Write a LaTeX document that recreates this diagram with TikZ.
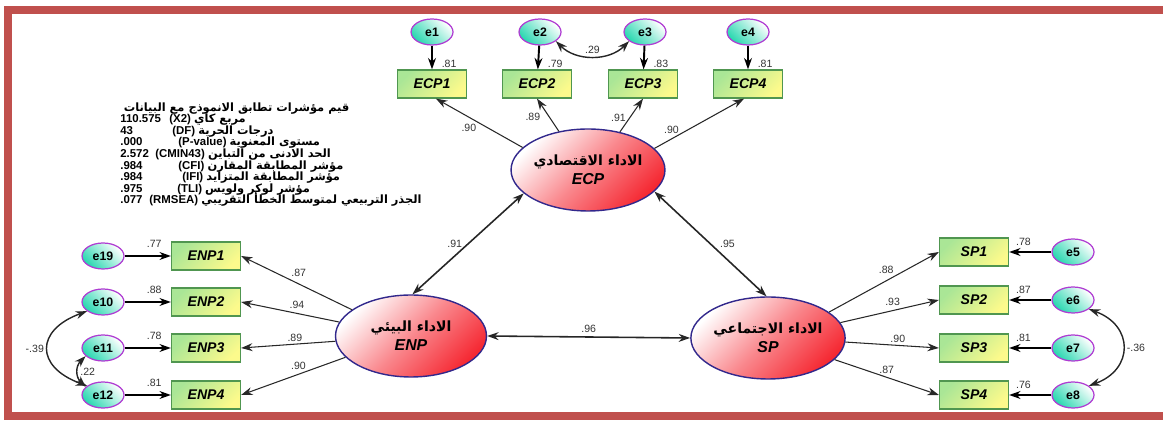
\documentclass[tikz,border=0pt]{standalone}
\usepackage{fontspec}
\setmainfont{Liberation Sans}
\newfontfamily\arabicfont[Script=Arabic]{DejaVu Sans}
\TeXXeTstate=1
\usetikzlibrary{arrows.meta,shapes.geometric}

\definecolor{framered}{RGB}{192,80,77}
\definecolor{boxgreen}{RGB}{170,230,150}
\definecolor{boxyellow}{RGB}{252,250,140}
\definecolor{boxline}{RGB}{80,150,80}
\definecolor{errteal}{RGB}{40,215,175}
\definecolor{errline}{RGB}{175,60,210}
\definecolor{latred}{RGB}{245,40,50}
\definecolor{latline}{RGB}{50,40,140}
\definecolor{pathgray}{RGB}{40,40,40}

\newcommand{\fitrow}[3]{\makebox[#2][l]{#1}#3}

\tikzset{
  obsbox/.style={rectangle, draw=boxline, line width=0.7pt,
    top color=boxgreen, bottom color=boxyellow, shading angle=45,
    minimum width=1.38cm, minimum height=0.56cm, inner sep=0pt,
    font=\fontsize{8}{9}\selectfont\bfseries\itshape},
  errnode/.style={ellipse, draw=errline, line width=0.7pt,
    top color=white, bottom color=errteal, shading angle=-45,
    minimum width=0.84cm, minimum height=0.52cm, inner sep=0pt,
    font=\fontsize{7}{8}\selectfont\bfseries},
  latent/.style={ellipse, draw=latline, line width=0.8pt,
    top color=white, bottom color=latred, middle color=latred!55!white, shading angle=45,
    minimum width=3.02cm, minimum height=1.64cm, inner sep=0pt, align=center,
    font=\fontsize{9}{11}\selectfont\bfseries\itshape},
  lbl/.style={font=\fontsize{6}{7}\selectfont, inner sep=1pt, text=black!80},
  load/.style={draw=pathgray, line width=0.6pt, ->},
  errarr/.style={draw=black, line width=1.1pt, ->},
  cov/.style={draw=black!85, line width=0.8pt, <->},
  bothway/.style={draw=black!85, line width=0.9pt, <->},
  fitbox/.style={inner sep=0pt, align=left,
    font={\fontsize{6.5}{6.6}\selectfont\bfseries\lineskiplimit=-10pt}},
  >={Stealth[length=6.5pt,width=4.5pt]}
}

\begin{document}
\begin{tikzpicture}[x=0.02cm, y=-0.02cm]
  \useasboundingbox (0,0) rectangle (1163,421);
  % frame
  \draw[framered, line width=0.16cm] (1170,10) -- (8,10) -- (8,416) -- (1170,416);

  % latent variables
  \node[latent] (ECP) at (588,170) {{\arabicfont\upshape\fontsize{8}{10}\selectfont\beginR الاداء الاقتصادي\endR}\\ECP};
  \node[latent] (ENP) at (411,336) {{\arabicfont\upshape\fontsize{8}{10}\selectfont\beginR الاداء البيئي\endR}\\ENP};
  \node[latent] (SP)  at (768,338) {{\arabicfont\upshape\fontsize{8}{10}\selectfont\beginR الاداء الاجتماعي\endR}\\SP};

  % ECP indicators
  \node[obsbox] (ECP1) at (432,84) {ECP1};
  \node[obsbox] (ECP2) at (537,84) {ECP2};
  \node[obsbox] (ECP3) at (643,84) {ECP3};
  \node[obsbox] (ECP4) at (748,84) {ECP4};
  \node[errnode] (e1) at (432,32) {e1};
  \node[errnode] (e2) at (540,32) {e2};
  \node[errnode] (e3) at (645,32) {e3};
  \node[errnode] (e4) at (748,32) {e4};

  % ENP indicators
  \node[obsbox] (ENP1) at (206,256) {ENP1};
  \node[obsbox] (ENP2) at (206,302) {ENP2};
  \node[obsbox] (ENP3) at (206,348) {ENP3};
  \node[obsbox] (ENP4) at (206,395) {ENP4};
  \node[errnode] (e19) at (103,256) {e19};
  \node[errnode] (e10) at (103,302) {e10};
  \node[errnode] (e11) at (103,348) {e11};
  \node[errnode] (e12) at (103,395) {e12};

  % SP indicators
  \node[obsbox] (SP1) at (974,252) {SP1};
  \node[obsbox] (SP2) at (974,300) {SP2};
  \node[obsbox] (SP3) at (974,348) {SP3};
  \node[obsbox] (SP4) at (974,395) {SP4};
  \node[errnode] (e5) at (1073,252) {e5};
  \node[errnode] (e6) at (1073,300) {e6};
  \node[errnode] (e7) at (1073,348) {e7};
  \node[errnode] (e8) at (1073,395) {e8};

  % fit indices
  \node[fitbox, anchor=north west] (fit) at (120,102) {%
    \hspace*{2pt}{\arabicfont\beginR قيم مؤشرات تطابق الانموذج مع البيانات\endR}\\
    \fitrow{110.575}{0.98cm}{(X2)} {\arabicfont\beginR مربع كاي\endR}\\
    \fitrow{43}{1.04cm}{(DF)} {\arabicfont\beginR درجات الحرية\endR}\\
    \fitrow{.000}{1.16cm}{(P-value)} {\arabicfont\beginR مستوى المعنوية\endR}\\
    \fitrow{2.572}{0.7cm}{(CMIN43)} {\arabicfont\beginR الحد الادنى من التباين\endR}\\
    \fitrow{.984}{1.16cm}{(CFI)} {\arabicfont\beginR مؤشر المطابقة المقارن\endR}\\
    \fitrow{.984}{1.24cm}{(IFI)} {\arabicfont\beginR مؤشر المطابقة المتزايد\endR}\\
    \fitrow{.975}{1.14cm}{(TLI)} {\arabicfont\beginR مؤشر لوكر ولويس\endR}\\
    \fitrow{.077}{0.58cm}{(RMSEA)} {\arabicfont\beginR الجذر التربيعي لمتوسط الخطأ التقريبي\endR}};

  % errors -> ECP items
  \draw[errarr] (e1) -- (ECP1) node[lbl, pos=.75, right=4pt] {.81};
  \draw[errarr] (e2) -- (ECP2) node[lbl, pos=.75, right=4pt] {.79};
  \draw[errarr] (e3) -- (ECP3) node[lbl, pos=.75, right=4pt] {.83};
  \draw[errarr] (e4) -- (ECP4) node[lbl, pos=.75, right=4pt] {.81};
  \draw[cov] (e2.-30) to[bend right=45] node[lbl, above=0pt] {.29} (e3.210);

  % errors -> ENP items
  \draw[errarr] (e19) -- (ENP1) node[lbl, pos=.64, above=3pt] {.77};
  \draw[errarr] (e10) -- (ENP2) node[lbl, pos=.64, above=3pt] {.88};
  \draw[errarr] (e11) -- (ENP3) node[lbl, pos=.64, above=3pt] {.78};
  \draw[errarr] (e12) -- (ENP4) node[lbl, pos=.64, above=3pt] {.81};
  \draw[cov] (e10.210) to[out=200, in=160, looseness=1.9] node[lbl, left=1pt] {-.39} (e12.150);
  \draw[cov] (e11.205) to[out=225, in=135, looseness=1.2] node[lbl, right=0pt] {.22} (e12.155);

  % errors -> SP items
  \draw[errarr] (e5) -- (SP1) node[lbl, pos=.66, above=2pt] {.78};
  \draw[errarr] (e6) -- (SP2) node[lbl, pos=.66, above=2pt] {.87};
  \draw[errarr] (e7) -- (SP3) node[lbl, pos=.66, above=2pt] {.81};
  \draw[errarr] (e8) -- (SP4) node[lbl, pos=.66, above=2pt] {.76};
  \draw[cov] (e6.-30) to[out=-20, in=20, looseness=1.6] node[lbl, right=1pt] {-.36} (e8.30);

  % loadings ECP
  \draw[load] (ECP.161) -- (ECP1.-75) node[lbl, pos=.62, below=2.5pt] {.90};
  \draw[load] (ECP.127) -- (ECP2.south) node[lbl, pos=.43, left=4pt] {.89};
  \draw[load] (ECP.50) -- (ECP3.south) node[lbl, pos=.43, left=1pt] {.91};
  \draw[load] (ECP.18) -- (ECP4.-105) node[lbl, pos=.19, above=2pt] {.90};

  % loadings ENP
  \draw[load] (ENP.156) -- (ENP1.east) node[lbl, pos=.48, above=3pt] {.87};
  \draw[load] (ENP.169) -- (ENP2.east) node[lbl, pos=.43, above=1.5pt] {.94};
  \draw[load] (ENP.184) -- (ENP3.east) node[lbl, pos=.43, above=0pt] {.89};
  \draw[load] (ENP.198) -- (ENP4.east) node[lbl, pos=.45, above=1.5pt] {.90};

  % loadings SP
  \draw[load] (SP.23) -- (SP1.west) node[lbl, pos=.52, above=3pt] {.88};
  \draw[load] (SP.12) -- (SP2.west) node[lbl, pos=.53, above=1.5pt] {.93};
  \draw[load] (SP.-3) -- (SP3.west) node[lbl, pos=.56, above=0.5pt] {.90};
  \draw[load] (SP.-18) -- (SP4.west) node[lbl, pos=.5, above=1pt] {.87};

  % correlations between latents
  \draw[bothway] (ECP.200) -- (ENP.88) node[lbl, midway, left=2pt] {.91};
  \draw[bothway] (ECP.-18) -- (SP.92) node[lbl, midway, right=4pt] {.95};
  \draw[bothway] (ENP.east) -- (SP.west) node[lbl, midway, above=1pt] {.96};
\end{tikzpicture}
\end{document}
